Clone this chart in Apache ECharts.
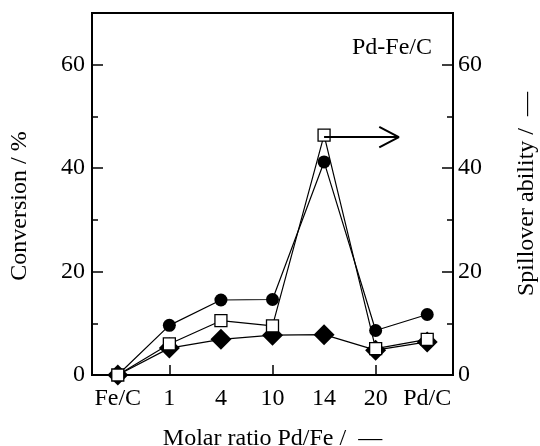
<!DOCTYPE html>
<html>
<head>
<meta charset="utf-8">
<script src="https://cdn.jsdelivr.net/npm/echarts@6/dist/echarts.min.js"></script>
<style>
  html, body { margin: 0; padding: 0; background: #fff; }
  #main { width: 540px; height: 446px; }
</style>
</head>
<body>
<div id="main"></div>
<script>
var chartDom = document.getElementById('main');
var myChart = echarts.init(chartDom);
var option;

// categories along x
var ratios = ['Fe/C', '1', '4', '10', '14', '20', 'Pd/C'];
// filled circles
var circleVals = [0, 9.6, 14.5, 14.6, 41.2, 8.6, 11.7];
// open squares
var squareVals = [0, 6.0, 10.5, 9.5, 46.4, 5.1, 6.9];
// filled diamonds
var diamondVals = [0, 5.2, 6.9, 7.7, 7.8, 4.8, 6.4];
// arrow pointing to the right axis (x in category index units)
var arrowLine = [[4, 46.0], [5.45, 46.0]];
var arrowHead = [[5.07, 48.0], [5.45, 46.0], [5.07, 44.0]];

var font = 'Liberation Serif';
var fs = 24;

function yAx(pos, major) {
  return {
    type: 'value',
    position: pos,
    min: 0,
    max: 70,
    interval: major ? 20 : 10,
    axisLine: { show: true, onZero: false, lineStyle: { color: '#000', width: 2 } },
    axisTick: { show: true, inside: true, length: major ? 11 : 6, lineStyle: { color: '#000', width: 1.5 } },
    axisLabel: {
      show: major,
      showMaxLabel: false,
      margin: pos === 'left' ? 7 : 5,
      color: '#000',
      fontFamily: font,
      fontSize: fs
    },
    splitLine: { show: false }
  };
}

var leftMajor = yAx('left', true);
leftMajor.name = 'Conversion / %';
leftMajor.nameLocation = 'middle';
leftMajor.nameRotate = 90;
leftMajor.nameGap = 60;
leftMajor.nameTextStyle = { color: '#000', fontFamily: font, fontSize: fs, padding: [0, 0, 0, -24] };

var rightMajor = yAx('right', true);
rightMajor.name = 'Spillover ability /  \u2014';
rightMajor.nameLocation = 'middle';
rightMajor.nameRotate = 90;
rightMajor.nameGap = 62;
rightMajor.nameTextStyle = { color: '#000', fontFamily: font, fontSize: fs };

option = {
  backgroundColor: '#fff',
  animation: false,
  grid: {
    left: 92,
    right: 87,
    top: 13,
    bottom: 71,
    containLabel: false,
    outerBoundsMode: 'none',
    show: true,
    borderColor: '#000',
    borderWidth: 2,
    backgroundColor: 'transparent'
  },
  graphic: [
    {
      type: 'text',
      right: 108,
      top: 36,
      style: { text: 'Pd-Fe/C', fill: '#000', font: fs + 'px "' + font + '"' }
    }
  ],
  xAxis: [
    {
      type: 'category',
      data: ratios,
      boundaryGap: true,
      name: 'Molar ratio Pd/Fe /  \u2014',
      nameLocation: 'middle',
      nameGap: 52,
      nameTextStyle: { color: '#000', fontFamily: font, fontSize: fs },
      axisLine: { onZero: false, lineStyle: { color: '#000', width: 2 } },
      axisTick: {
        show: true,
        inside: true,
        alignWithLabel: true,
        length: 10,
        interval: function (idx) { return idx === 1 || idx === 3 || idx === 5; },
        lineStyle: { color: '#000', width: 1.5 }
      },
      axisLabel: { interval: 0, margin: 12, color: '#000', fontFamily: font, fontSize: fs },
      splitLine: { show: false }
    },
    {
      type: 'value',
      min: -0.5,
      max: 6.5,
      show: false
    }
  ],
  yAxis: [leftMajor, yAx('left', false), rightMajor, yAx('right', false)],
  series: [
    {
      type: 'line',
      data: diamondVals,
      symbol: 'diamond',
      symbolSize: 21,
      lineStyle: { color: '#000', width: 1.2 },
      itemStyle: { color: '#000', borderColor: '#000', borderWidth: 0 },
      z: 2
    },
    {
      type: 'line',
      data: circleVals,
      symbol: 'circle',
      symbolSize: 13,
      lineStyle: { color: '#000', width: 1.2 },
      itemStyle: { color: '#000', borderColor: '#000', borderWidth: 0 },
      z: 3
    },
    {
      type: 'line',
      data: squareVals,
      symbol: 'rect',
      symbolSize: 12,
      lineStyle: { color: '#000', width: 1.2 },
      itemStyle: { color: '#fff', borderColor: '#000', borderWidth: 1.3 },
      z: 4
    },
    {
      type: 'line',
      xAxisIndex: 1,
      data: arrowLine,
      symbol: 'none',
      lineStyle: { color: '#000', width: 2 },
      z: 5
    },
    {
      type: 'line',
      xAxisIndex: 1,
      data: arrowHead,
      symbol: 'none',
      lineStyle: { color: '#000', width: 2 },
      z: 5
    }
  ]
};

option && myChart.setOption(option);
</script>
</body>
</html>
